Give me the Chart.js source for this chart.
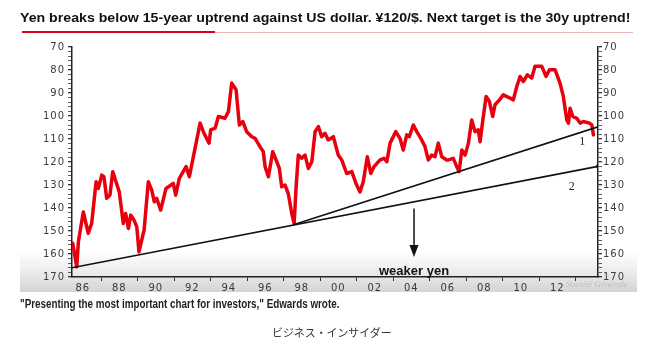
<!DOCTYPE html>
<html>
<head>
<meta charset="utf-8">
<title>Yen breaks below 15-year uptrend</title>
<script src="https://cdn.jsdelivr.net/npm/chart.js@4.4.0/dist/chart.umd.min.js"></script>
<style>
  body { margin: 0; background: #fff; }
  #wrap { position: relative; width: 658px; height: 346px; overflow: hidden; }
  #box { position: absolute; left: 0; top: 0; width: 658px; height: 346px; }
  .fit { position: absolute; white-space: nowrap; transform-origin: 0 0; }
  #title { left: 20px; top: 11px; font: bold 12px "Liberation Sans", Arial, sans-serif; color: #111; }
  #redbar { position: absolute; left: 22px; top: 31px; width: 193px; height: 2px; background: #d9001b; }
  #pinkbar { position: absolute; left: 215px; top: 32px; width: 418px; height: 1px; background: #ebb6b6; }
  #caption { left: 20px; top: 297px; font: bold 12px "Liberation Sans Narrow", "Liberation Sans", sans-serif; color: #222; }
  #source { left: 272px; top: 324px; line-height: 11px; font: 11px "Noto Sans CJK JP", sans-serif; color: #333; }
</style>
</head>
<body>
<div id="wrap">
  <div id="box"><canvas id="yen"></canvas></div>
  <div id="title" class="fit" data-w="611">Yen breaks below 15-year uptrend against US dollar. ¥120/$. Next target is the 30y uptrend!</div>
  <div id="redbar"></div>
  <div id="pinkbar"></div>
  <div id="caption" class="fit" data-w="319">"Presenting the most important chart for investors," Edwards wrote.</div>
  <div id="source" class="fit" data-w="120">ビジネス・インサイダー</div>
</div>
<script>
  // USD/JPY (axis is inverted: weaker yen is lower)
  var yenYears = [1985.45,1985.67,1985.76,1986.03,1986.30,1986.49,1986.73,1986.85,1987.04,1987.16,
    1987.31,1987.49,1987.64,1987.82,1988.00,1988.22,1988.35,1988.50,1988.63,1988.81,
    1988.96,1989.08,1989.23,1989.36,1989.59,1989.78,1989.92,1990.05,1990.27,1990.56,
    1990.96,1991.09,1991.29,1991.66,1991.84,1992.06,1992.43,1992.64,1992.92,1993.01,
    1993.25,1993.43,1993.79,1993.98,1994.16,1994.40,1994.58,1994.77,1994.98,1995.26,
    1995.44,1995.71,1995.89,1995.99,1996.17,1996.41,1996.63,1996.77,1996.90,1997.08,
    1997.26,1997.45,1997.58,1997.69,1997.81,1998.00,1998.18,1998.36,1998.55,1998.73,
    1998.91,1999.09,1999.27,1999.45,1999.73,2000.00,2000.19,2000.46,2000.74,2000.97,
    2001.19,2001.37,2001.59,2001.78,2001.96,2002.29,2002.51,2002.66,2002.84,2003.15,
    2003.38,2003.56,2003.75,2003.89,2004.11,2004.30,2004.57,2004.75,2004.93,2005.12,
    2005.30,2005.48,2005.67,2005.94,2006.03,2006.30,2006.49,2006.62,2006.77,2006.95,
    2007.13,2007.31,2007.49,2007.67,2007.77,2007.92,2008.10,2008.28,2008.46,2008.59,
    2008.83,2009.04,2009.41,2009.59,2009.78,2009.96,2010.14,2010.36,2010.60,2010.78,
    2011.15,2011.38,2011.57,2011.88,2012.15,2012.33,2012.52,2012.61,2012.70,2012.85,
    2013.07,2013.25,2013.43,2013.76,2013.89,2013.98];
  var yenValues = [155.3,165.6,154.7,141.7,151.0,146.6,128.6,131.5,125.7,126.4,
    135.8,134.4,124.2,128.6,133.0,146.7,142.4,148.9,143.1,145.3,
    148.2,159.1,154.0,149.6,128.6,132.2,137.3,135.8,140.9,131.5,
    129.3,134.4,127.1,122.0,126.4,117.7,103.1,107.5,111.8,106.0,
    105.3,100.2,101.0,98.1,85.7,88.6,103.9,102.4,106.8,109.0,
    109.7,113.3,115.5,122.0,126.4,115.5,119.9,122.8,130.8,130.0,
    133.7,142.4,146.7,130.8,117.0,118.4,117.0,122.8,119.9,106.8,
    104.6,109.0,107.5,110.4,109.0,117.0,119.1,125.0,124.2,129.3,
    133.0,128.6,117.7,125.0,122.0,119.1,118.4,119.9,111.8,106.8,
    109.7,114.8,108.2,109.0,103.9,106.8,110.4,113.3,119.1,117.0,
    117.7,111.8,117.7,119.1,119.1,118.4,122.0,124.2,114.8,117.0,
    111.8,101.7,106.8,106.0,111.2,101.7,91.5,93.7,100.2,95.1,
    93.0,90.8,92.2,93.0,87.2,82.8,85.0,82.1,83.5,78.4,
    78.4,82.8,79.9,79.9,85.7,91.5,101.7,103.1,96.6,100.2,
    101.0,103.1,102.4,103.1,103.9,108.2];

  // trend lines: 2 = 30y uptrend, 1 = 15y uptrend
  var trend30Years = [1985.41, 2014.23];
  var trend30Values = [166.0, 121.9];
  var trend15Years = [1997.54, 2014.23];
  var trend15Values = [147.3, 104.7];

  var yearMin = 1985.41, yearMax = 2014.23;
  var yenMin = 70, yenMax = 170;
  var yearTicks = [];
  for (var yr = 1986; yr <= 2013; yr++) yearTicks.push(yr);
  var yenTicks = [];
  for (var v = yenMin; v <= yenMax; v += 2) yenTicks.push(v);

  var notes = [
    { text: '1', year: 2013.37, value: 111.1 },
    { text: '2', year: 2012.79, value: 130.8 }
  ];
  var arrowYear = 2004.15, arrowFrom = 140.2, arrowTo = 161.3;
  var arrowLabel = 'weaker yen', arrowLabelValue = 167.4;

  function pairs(xs, ys) {
    return xs.map(function (x, i) { return { x: x, y: ys[i] }; });
  }

  var overlay = {
    id: 'overlay',
    beforeDraw: function (chart) {
      var ctx = chart.ctx, a = chart.chartArea;
      ctx.save();
      var g = ctx.createLinearGradient(0, a.bottom - 26, 0, a.bottom + 15);
      g.addColorStop(0, 'rgba(220,220,220,0)');
      g.addColorStop(1, 'rgba(212,212,212,1)');
      ctx.fillStyle = g;
      ctx.fillRect(20, a.bottom - 26, 617, 41);
      ctx.restore();
      ctx.letterSpacing = '1px';
    },
    afterDatasetsDraw: function (chart) {
      var ctx = chart.ctx, x = chart.scales.x, y = chart.scales.y, a = chart.chartArea;
      ctx.save();
      ctx.letterSpacing = '0px';
      // arrow
      var ax = x.getPixelForValue(arrowYear);
      var top = y.getPixelForValue(arrowFrom), tip = y.getPixelForValue(arrowTo);
      ctx.strokeStyle = '#111';
      ctx.lineWidth = 1.5;
      ctx.beginPath();
      ctx.moveTo(ax, top);
      ctx.lineTo(ax, tip - 10);
      ctx.stroke();
      ctx.fillStyle = '#111';
      ctx.beginPath();
      ctx.moveTo(ax - 4.5, tip - 12);
      ctx.lineTo(ax + 4.5, tip - 12);
      ctx.lineTo(ax, tip);
      ctx.closePath();
      ctx.fill();
      ctx.font = 'bold 13px "Liberation Sans", Arial, sans-serif';
      ctx.textAlign = 'center';
      ctx.textBaseline = 'middle';
      ctx.fillText(arrowLabel, ax, y.getPixelForValue(arrowLabelValue));
      // trend numbers
      ctx.font = '12px "Liberation Serif", serif';
      ctx.fillStyle = '#222';
      notes.forEach(function (n) {
        ctx.fillText(n.text, x.getPixelForValue(n.year), y.getPixelForValue(n.value));
      });
      // watermark
      ctx.font = 'italic 9px "Liberation Serif", serif';
      ctx.fillStyle = '#bcbcbc';
      ctx.textAlign = 'right';
      ctx.fillText('Société Générale', a.right + 30, a.bottom + 8);
      ctx.restore();
    }
  };

  var tickFont = { family: '"DejaVu Sans", sans-serif', size: 10 };

  function yAxis(position, width, pad) {
    return {
      type: 'linear',
      position: position,
      min: yenMin,
      max: yenMax,
      reverse: true,
      afterBuildTicks: function (s) { s.ticks = yenTicks.map(function (t) { return { value: t }; }); },
      afterFit: function (s) { s.width = width; },
      border: { display: true, color: '#222', width: 1.5 },
      grid: {
        drawOnChartArea: false,
        tickLength: 4,
        color: '#333',
        lineWidth: function (c) { return c.tick && c.tick.value % 10 === 0 ? 1.3 : 0.8; }
      },
      ticks: {
        autoSkip: false,
        padding: pad,
        color: '#3a3a3a',
        font: tickFont,
        callback: function (val) { return val % 10 === 0 ? String(val) : ''; }
      }
    };
  }

  new Chart(document.getElementById('yen'), {
    type: 'line',
    data: {
      datasets: [
        {
          data: pairs(trend30Years, trend30Values),
          borderColor: '#111',
          borderWidth: 1.6,
          pointRadius: [0, 2],
          pointBackgroundColor: '#111',
          pointBorderWidth: 0
        },
        {
          data: pairs(trend15Years, trend15Values),
          borderColor: '#111',
          borderWidth: 1.6,
          pointRadius: 0
        },
        {
          data: pairs(yenYears, yenValues),
          borderColor: '#e8000e',
          borderWidth: 3.5,
          borderJoinStyle: 'round',
          borderCapStyle: 'round',
          pointRadius: 0,
          tension: 0
        }
      ]
    },
    options: {
      responsive: true,
      maintainAspectRatio: false,
      animation: false,
      events: [],
      layout: { padding: { top: 47, left: 20, right: 20, bottom: 54 } },
      plugins: { legend: { display: false }, tooltip: { enabled: false }, title: { display: false } },
      scales: {
        x: {
          type: 'linear',
          min: yearMin,
          max: yearMax,
          afterBuildTicks: function (s) { s.ticks = yearTicks.map(function (t) { return { value: t }; }); },
          afterFit: function (s) { s.height = 15; },
          border: { display: true, color: '#222', width: 1.5 },
          grid: {
            drawOnChartArea: false,
            tickLength: 4,
            color: function (c) { return c.tick && c.tick.value % 2 ? '#333' : 'rgba(0,0,0,0)'; }
          },
          ticks: {
            autoSkip: false,
            maxRotation: 0,
            padding: 1,
            color: '#3a3a3a',
            font: tickFont,
            callback: function (val) { return val % 2 === 0 ? String(val).slice(2) : ''; }
          }
        },
        y: yAxis('left', 52, 3),
        y2: yAxis('right', 40, 1)
      }
    },
    plugins: [overlay]
  });

  function fitText() {
    document.querySelectorAll('.fit').forEach(function (el) {
      el.style.transform = 'none';
      var k = parseFloat(el.getAttribute('data-w')) / el.offsetWidth;
      el.style.transform = 'scaleX(' + k + ')';
    });
  }
  fitText();
  if (document.fonts) document.fonts.ready.then(fitText);
</script>
</body>
</html>
